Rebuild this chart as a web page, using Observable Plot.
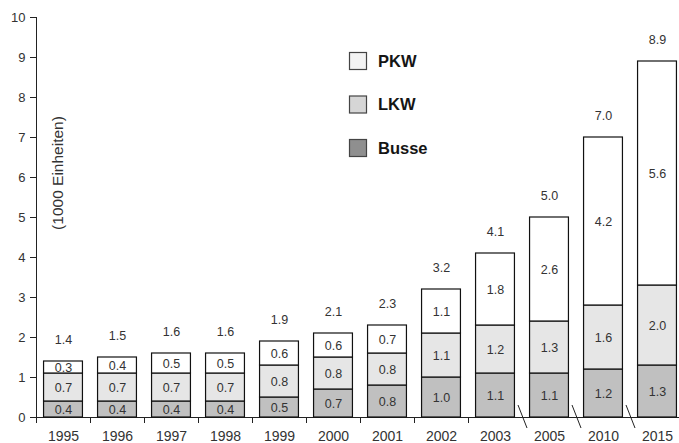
<!DOCTYPE html>
<html>
<head>
<meta charset="utf-8">
<script src="https://cdn.jsdelivr.net/npm/d3@7"></script>
<script src="https://cdn.jsdelivr.net/npm/@observablehq/plot@0.6"></script>
<style>
  body { margin: 0; background: #fff; }
  #chart { width: 679px; height: 443px; }
</style>
</head>
<body>
<div id="chart"></div>
<script>
// Fahrzeugbestand in 1000 Einheiten, gestapelt nach Fahrzeugart
const years  = ["1995", "1996", "1997", "1998", "1999", "2000", "2001", "2002", "2003", "2005", "2010", "2015"];
const busse  = [0.4, 0.4, 0.4, 0.4, 0.5, 0.7, 0.8, 1.0, 1.1, 1.1, 1.2, 1.3];
const lkw    = [0.7, 0.7, 0.7, 0.7, 0.8, 0.8, 0.8, 1.1, 1.2, 1.3, 1.6, 2.0];
const pkw    = [0.3, 0.4, 0.5, 0.5, 0.6, 0.6, 0.7, 1.1, 1.8, 2.6, 4.2, 5.6];
const totals = [1.4, 1.5, 1.6, 1.6, 1.9, 2.1, 2.3, 3.2, 4.1, 5.0, 7.0, 8.9];
const yTicks = [0, 1, 2, 3, 4, 5, 6, 7, 8, 9, 10];
const yLabel = "(1000 Einheiten)";

// stacking order bottom to top
const seriesNames = ["Busse", "LKW", "PKW"];
const barColors = ["#c0c0c0", "#e6e6e6", "#ffffff"];
// legend order top to bottom
const legendNames  = ["PKW", "LKW", "Busse"];
const legendColors = ["#f3f3f3", "#d6d6d6", "#8f8f8f"];
// years preceded by a gap in the time axis
const brokenBefore = ["2005", "2010", "2015"];

const series = { Busse: busse, LKW: lkw, PKW: pkw };
const rows = years.flatMap((year, i) =>
  seriesNames.map(type => ({ year, type, value: series[type][i] })));

const fmt = v => v.toFixed(1);
const font = "'Liberation Sans', Arial, Helvetica, sans-serif";

const xRange = [36, 684];
const step = (xRange[1] - xRange[0]) / years.length;
const tickYears = years.filter(y => !brokenBefore.includes(y));

const chart = Plot.plot({
  width: 679,
  height: 443,
  marginLeft: 36,
  marginRight: 0,
  marginTop: 17,
  marginBottom: 26,
  style: { fontFamily: font, background: "#fff", color: "#333", overflow: "visible" },
  x: { type: "band", domain: years, range: xRange, paddingInner: 0.28, paddingOuter: 0.14, round: false },
  y: { domain: [0, 10] },
  color: { domain: seriesNames, range: barColors },
  marks: [
    Plot.axisY(yTicks, { tickSize: 6, tickPadding: 5, fontSize: 13, label: null, stroke: "#222", fill: "#333" }),
    Plot.axisX({ tickSize: 0, tickPadding: 14, fontSize: 14, label: null, fill: "#333" }),
    // baseline of the x axis
    Plot.ruleY([0], { stroke: "#222" }),
    // y axis line, drawn at the left edge of the first band
    Plot.ruleX([years[0]], { y1: 10, y2: -0.15, dx: -step / 2, stroke: "#222" }),
    // tick marks between neighbouring years
    Plot.ruleX(tickYears.slice(1), { y1: 0, y2: -0.15, dx: -step / 2, stroke: "#222" }),
    Plot.barY(rows, { x: "year", y: "value", fill: "type", z: "type", stroke: "#111", strokeWidth: 1.2 }),
    Plot.text(rows, Plot.stackY({ x: "year", y: "value", z: "type", text: d => fmt(d.value), fontSize: 12.5, fill: "#333" })),
    Plot.text(years, { x: d => d, y: (d, i) => totals[i], text: (d, i) => fmt(totals[i]), dy: -22, fontSize: 12.5, fill: "#333" })
  ]
});

const svg = d3.select(chart);
const sx = chart.scale("x");
const sy = chart.scale("y");
const y0 = sy.apply(0);
const gapBefore = d => sx.apply(d) - (sx.step - sx.bandwidth) / 2;

// slanted break marks on the x axis where years are skipped
svg.append("g")
  .attr("stroke", "#222")
  .attr("stroke-width", 1)
  .selectAll("line")
  .data(brokenBefore)
  .join("line")
  .attr("x1", d => gapBefore(d) - 4)
  .attr("y1", y0 - 12)
  .attr("x2", d => gapBefore(d) + 5)
  .attr("y2", y0 + 11);

// rotated y axis title inside the plot area
svg.append("text")
  .attr("transform", `translate(${sx.range[0] + 27},${sy.apply(6.1)}) rotate(-90)`)
  .attr("text-anchor", "middle")
  .attr("font-family", font)
  .attr("font-size", 15.5)
  .attr("fill", "#333")
  .text(yLabel);

// legend
const legend = svg.append("g")
  .attr("transform", "translate(349,52)")
  .attr("font-family", font)
  .attr("text-anchor", "start");
const item = legend.selectAll("g")
  .data(legendNames)
  .join("g")
  .attr("transform", (d, i) => `translate(0,${i * 43.5})`);
item.append("rect")
  .attr("x", 0.5).attr("y", 0.5)
  .attr("width", 17).attr("height", 17)
  .attr("fill", (d, i) => legendColors[i])
  .attr("stroke", "#444")
  .attr("stroke-width", 1.2);
item.append("text")
  .attr("x", 29)
  .attr("y", 9)
  .attr("dy", "0.36em")
  .attr("font-size", 16.5)
  .attr("font-weight", "bold")
  .attr("fill", "#151515")
  .text(d => d);

document.getElementById("chart").append(chart);
</script>
</body>
</html>
